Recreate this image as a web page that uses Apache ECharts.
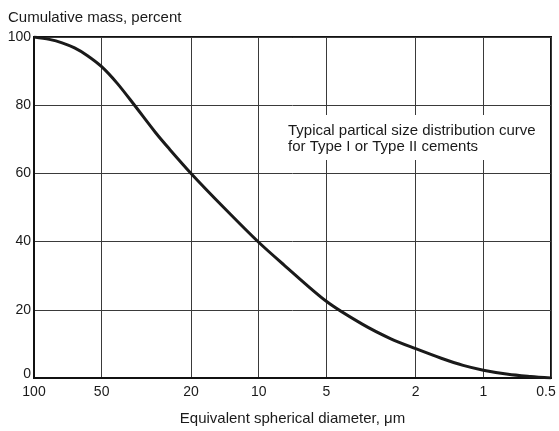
<!DOCTYPE html>
<html>
<head>
<meta charset="utf-8">
<script src="https://cdn.jsdelivr.net/npm/echarts@6/dist/echarts.min.js"></script>
<style>
html,body{margin:0;padding:0;background:#ffffff;}
#chart{width:559px;height:431px;}
</style>
</head>
<body>
<div id="chart"></div>
<script>
// Equivalent spherical diameter (µm) and cumulative mass (%)
const diameter = [100, 85.5, 75, 66, 58, 50, 42.6, 35.9, 28.8, 25, 20, 14.3, 10, 7.73, 5, 3.46, 2.58, 2, 1.54, 1.23, 1, 0.776, 0.616, 0.5];
const mass     = [100, 99.3, 98.3, 96.8, 94.6, 91.3, 86.4, 80.2, 72.0, 67.2, 60, 50, 39.8, 33.2, 22.5, 15.8, 11.5, 8.6, 5.8, 3.7, 2.3, 1.1, 0.45, 0];
const xTickLabels = [100, 50, 20, 10, 5, 2, 1, 0.5];
const yTickLabels = [0, 20, 40, 60, 80, 100];

const FONT = '"Liberation Sans", Arial, sans-serif';
const chart = echarts.init(document.getElementById('chart'), null, {renderer: 'canvas'});

const logTicks = xTickLabels.map(v => Math.log10(v));
const seriesData = diameter.map((d, i) => [Math.log10(d), mass[i]]);

function labelFor(v) {
  for (const t of xTickLabels) {
    if (Math.abs(Math.log10(t) - v) < 1e-6) return String(t);
  }
  return '';
}

chart.setOption({
  backgroundColor: '#ffffff',
  animation: false,
  grid: {
    left: 34, right: 8, top: 37, bottom: 53,
    outerBoundsMode: 'none',
    containLabel: false,
    show: true, borderColor: '#111', borderWidth: 2, backgroundColor: 'transparent'
  },
  xAxis: {
    type: 'value',
    inverse: true,
    min: Math.log10(0.5),
    max: 2,
    name: 'Equivalent spherical diameter, \u03bcm',
    nameLocation: 'middle',
    nameGap: 33,
    nameTextStyle: {fontFamily: FONT, fontSize: 15, color: '#1a1a1a'},
    axisLine: {show: true, onZero: false, lineStyle: {color: '#111', width: 2}},
    axisTick: {show: false, customValues: logTicks},
    axisLabel: {
      customValues: logTicks,
      margin: 7,
      fontFamily: FONT, fontSize: 14, color: '#1a1a1a',
      formatter: v => {
        const s = labelFor(v);
        return s === '0.5' ? '{r|0.5}' : s;
      },
      rich: {r: {fontFamily: FONT, fontSize: 14, color: '#1a1a1a', padding: [0, 10, 0, 0]}}
    },
    splitLine: {show: true, lineStyle: {color: '#3a3a3a', width: 1}}
  },
  yAxis: {
    type: 'value',
    min: 0,
    max: 100,
    interval: 20,
    axisLine: {show: true, onZero: false, lineStyle: {color: '#111', width: 2}},
    axisTick: {show: false},
    axisLabel: {
      margin: 3,
      fontFamily: FONT, fontSize: 14, color: '#1a1a1a',
      formatter: v => (yTickLabels.indexOf(v) >= 0 ? (v === 0 ? '{z|0}' : String(v)) : ''),
      rich: {z: {fontFamily: FONT, fontSize: 14, color: '#1a1a1a', padding: [0, 0, 8, 0]}}
    },
    splitLine: {show: true, lineStyle: {color: '#3a3a3a', width: 1}}
  },
  series: [{
    type: 'line',
    data: seriesData,
    smooth: 0.3,
    symbol: 'none',
    lineStyle: {color: '#1a1a1a', width: 3},
    z: 5
  }],
  graphic: [
    {
      type: 'text',
      left: 8, top: 10,
      style: {text: 'Cumulative mass, percent', font: '15px ' + FONT, fill: '#1a1a1a'}
    },
    {
      type: 'text',
      x: 282, y: 115,
      z: 10,
      style: {
        text: 'Typical partical size distribution curve\nfor Type I or Type II cements',
        font: '15px ' + FONT,
        lineHeight: 16,
        fill: '#1a1a1a',
        backgroundColor: '#ffffff',
        padding: [8, 8, 5, 6]
      }
    }
  ]
});
</script>
</body>
</html>
